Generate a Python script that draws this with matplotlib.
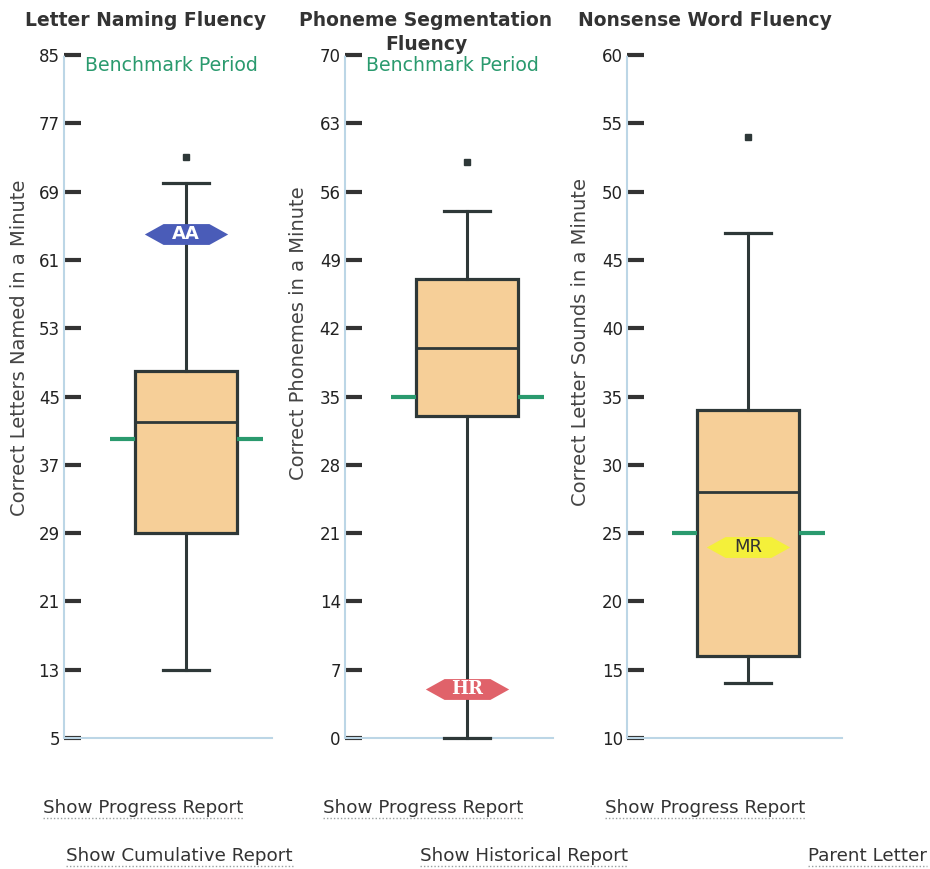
import matplotlib
matplotlib.use("Agg")
import matplotlib.pyplot as plt
from matplotlib.path import Path
from matplotlib.lines import Line2D

# ---------------- data ----------------
titles = ["Letter Naming Fluency", "Phoneme Segmentation\nFluency", "Nonsense Word Fluency"]
ylabels = ["Correct Letters Named in a Minute",
           "Correct Phonemes in a Minute",
           "Correct Letter Sounds in a Minute"]
yticks = [[5, 13, 21, 29, 37, 45, 53, 61, 69, 77, 85],
          [0, 7, 14, 21, 28, 35, 42, 49, 56, 63, 70],
          [10, 15, 20, 25, 30, 35, 40, 45, 50, 55, 60]]
ylims = [(5, 85), (0, 70), (10, 60)]
whislo = [13, 0, 14]
q1 = [29, 33, 16]
med = [42, 40, 28]
q3 = [48, 47, 34]
whishi = [70, 54, 47]
outliers = [[73], [59], [54]]
benchmark = [40, 35, 25]
show_period = [True, True, False]
flag_labels = ["AA", "HR", "MR"]
flag_values = [64, 5, 24]
flag_colors = ["#4a5cb8", "#e0626a", "#f4f03a"]
flag_text_colors = ["white", "white", "#333333"]
links_row1 = ["Show Progress Report", "Show Progress Report", "Show Progress Report"]
links_row2 = ["Show Cumulative Report", "Show Historical Report", "Parent Letter"]

# ---------------- style ----------------
W, H = 930, 869
fig = plt.figure(figsize=(W / 100, H / 100), dpi=100)
fig.patch.set_facecolor("white")

box_fc = "#f6cf98"
dark = "#2e3838"
green = "#2a9a6e"
axis_blue = "#bcd6e6"

axes_left_px = [64, 345, 627]
axes_right_px = [272, 553, 842]
box_center_px = [186, 467, 748]
top_px, bottom_px = 55, 738
box_w_px = 102.0

flag_path = Path([(-1, 0), (-0.55, 0.25), (0.55, 0.25), (1, 0),
                  (0.55, -0.25), (-0.55, -0.25), (-1, 0)],
                 [Path.MOVETO] + [Path.LINETO] * 5 + [Path.CLOSEPOLY])

for i in range(3):
    l = axes_left_px[i] / W
    w = (axes_right_px[i] - axes_left_px[i]) / W
    b = (H - bottom_px) / H
    h = (bottom_px - top_px) / H
    ax = fig.add_axes([l, b, w, h])
    xl = -(box_center_px[i] - axes_left_px[i]) / box_w_px
    xr = (axes_right_px[i] - box_center_px[i]) / box_w_px
    ax.set_xlim(xl, xr)
    ax.set_ylim(*ylims[i])

    stats = [dict(whislo=whislo[i], q1=q1[i], med=med[i], q3=q3[i],
                  whishi=whishi[i], fliers=outliers[i])]
    parts = ax.bxp(stats, positions=[0], widths=1.0, capwidths=0.46, patch_artist=True,
                   boxprops=dict(facecolor=box_fc, edgecolor=dark, linewidth=2.3),
                   medianprops=dict(color=dark, linewidth=2.0),
                   whiskerprops=dict(color=dark, linewidth=2.2),
                   capprops=dict(color=dark, linewidth=2.3),
                   flierprops=dict(marker="s", markersize=4.5, markerfacecolor=dark,
                                   markeredgecolor=dark),
                   zorder=3)
    for key in ("whiskers", "caps"):
        for art in parts[key]:
            art.set_clip_on(False)
            art.set_zorder(3)

    # benchmark goal ticks
    ax.hlines(benchmark[i], -0.75, -0.5, color=green, linewidth=3, zorder=3)
    ax.hlines(benchmark[i], 0.5, 0.75, color=green, linewidth=3, zorder=3)

    # student flag
    ax.plot([0], [flag_values[i]], marker=flag_path, markersize=60,
            color=flag_colors[i], markeredgewidth=0, zorder=4)
    ax.text(0, flag_values[i], flag_labels[i], ha="center", va="center",
            fontsize=13, color=flag_text_colors[i],
            fontweight="bold" if i < 2 else "normal",
            family="DejaVu Serif" if i == 1 else "DejaVu Sans", zorder=5)

    if show_period[i]:
        ax.text(21 / (axes_right_px[i] - axes_left_px[i]), 0.985, "Benchmark Period",
                transform=ax.transAxes, ha="left", va="center",
                fontsize=13.6, color=green)

    ax.set_yticks(yticks[i])
    ax.set_xticks([])
    ax.tick_params(axis="y", direction="in", length=12, width=3, color="#333333",
                   labelsize=12, labelcolor="#222222", pad=3)
    for side in ("top", "right"):
        ax.spines[side].set_visible(False)
    ax.spines["left"].set_color(axis_blue)
    ax.spines["left"].set_linestyle((0, (1, 1)))
    ax.spines["left"].set_linewidth(1.5)
    ax.spines["bottom"].set_color(axis_blue)
    ax.spines["bottom"].set_linewidth(1.5)
    ax.set_facecolor("none")

# titles (each line placed as its own text, centred lines for multi-line titles)
title_x = [25, 426, 578]
title_ha = ["left", "center", "left"]
for i in range(3):
    for j, line in enumerate(titles[i].split("\n")):
        fig.text(title_x[i] / W, 1 - (20 + 25 * j) / H, line, ha=title_ha[i],
                 va="center", fontsize=13.5, fontweight="bold", color="#333333")

# y labels
ylabel_x = [20, 298, 580]
ylabel_y = [348, 333, 342]
for i in range(3):
    fig.text(ylabel_x[i] / W, 1 - ylabel_y[i] / H, ylabels[i], rotation=90,
             ha="center", va="center", fontsize=14, color="#444444")

# links
row1_x = [43, 323, 605]
row2_x = [66, 420, 808]
link_texts = []
for i in range(3):
    link_texts.append(fig.text(row1_x[i] / W, 1 - 808 / H, links_row1[i], ha="left",
                               va="center", fontsize=13.2, color="#333333"))
    link_texts.append(fig.text(row2_x[i] / W, 1 - 856 / H, links_row2[i], ha="left",
                               va="center", fontsize=13.2, color="#333333"))

fig.canvas.draw()
renderer = fig.canvas.get_renderer()
for t in link_texts:
    bb = t.get_window_extent(renderer)
    y = (bb.y0 - 1) / H
    fig.add_artist(Line2D([bb.x0 / W, bb.x1 / W], [y, y], transform=fig.transFigure,
                          color="#9aa0a0", linewidth=1, linestyle=(0, (1, 1.5))))

fig.savefig("out.png", dpi=100, facecolor="white")
